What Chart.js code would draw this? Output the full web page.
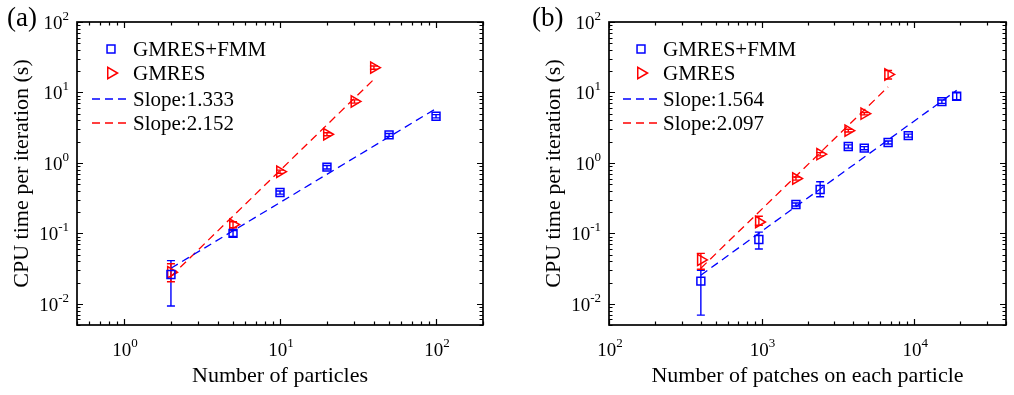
<!DOCTYPE html>
<html><head><meta charset="utf-8">
<script src="https://cdn.jsdelivr.net/npm/chart.js@4.4.1/dist/chart.umd.min.js"></script>
<style>
html,body{margin:0;padding:0;background:#fff;}
#wrap{position:relative;width:1014px;height:395px;overflow:hidden;background:#fff;}
canvas{position:absolute;top:0;}
</style></head><body>
<div id="wrap">
<canvas id="ca" width="507" height="395" style="left:0;width:507px;height:395px"></canvas>
<canvas id="cb" width="507" height="395" style="left:507px;width:507px;height:395px"></canvas>
</div>
<script>
// ---------- Panel (a) data ----------
const fmmParticlesA = [2, 5, 10, 20, 50, 100];
const fmmTimeA      = [0.026, 0.100, 0.38, 0.87, 2.5, 4.6];
const fmmLowA       = [0.0093, 0.090, 0.36, 0.82, 2.38, 4.35];
const fmmHighA      = [0.041, 0.110, 0.40, 0.92, 2.62, 4.85];
const gmresParticlesA = [2, 5, 10, 20, 30, 40];
const gmresTimeA      = [0.028, 0.133, 0.75, 2.55, 7.45, 22.5];
const gmresLowA       = [0.0206, 0.120, 0.71, 2.43, 7.05, 21.3];
const gmresHighA      = [0.037, 0.146, 0.79, 2.68, 7.85, 23.7];
const fitFmmXA = [2, 100];   const fitFmmYA = [0.032, 5.9];
const fitGmresXA = [2, 40];  const fitGmresYA = [0.0245, 15.4];
const slopeLabelsA = ['Slope:1.333', 'Slope:2.152'];

// ---------- Panel (b) data ----------
const fmmPatchesB = [400, 960, 1680, 2420, 3700, 4710, 6750, 9150, 15200, 19000];
const fmmTimeB    = [0.021, 0.082, 0.257, 0.42, 1.71, 1.62, 1.95, 2.44, 7.4, 8.85];
const fmmLowB     = [0.0069, 0.060, 0.245, 0.33, 1.62, 1.54, 1.85, 2.32, 7.0, 7.9];
const fmmHighB    = [0.030, 0.104, 0.270, 0.54, 1.80, 1.70, 2.05, 2.56, 7.8, 9.9];
const gmresPatchesB = [400, 960, 1680, 2420, 3700, 4710, 6750];
const gmresTimeB    = [0.042, 0.145, 0.60, 1.33, 2.87, 5.0, 18.0];
const gmresLowB     = [0.031, 0.130, 0.57, 1.26, 2.75, 4.8, 15.5];
const gmresHighB    = [0.052, 0.175, 0.63, 1.40, 3.00, 5.2, 20.5];
const fitFmmXB = [400, 19000];  const fitFmmYB = [0.0255, 10.7];
const fitGmresXB = [400, 6750]; const fitGmresYB = [0.032, 12.0];
const slopeLabelsB = ['Slope:1.564', 'Slope:2.097'];

// ---------- tick labels ----------
const xTickValsA = [1, 10, 100];        const xTickExpA = ['0', '1', '2'];
const xTickValsB = [100, 1000, 10000];  const xTickExpB = ['2', '3', '4'];
const yTickVals  = [0.01, 0.1, 1, 10, 100]; const yTickExp = ['-2', '-1', '0', '1', '2'];

const BLUE = 'rgb(0,0,255)', RED = 'rgb(255,0,0)';
const SERIF = "'Liberation Serif','Times New Roman',serif";

function pts(xs, ys) { return xs.map((x, i) => ({x: x, y: ys[i]})); }

function makeDatasets(fx, fy, fl, fh, gx, gy, gl, gh, lfx, lfy, lgx, lgy, slopes) {
  return [
    {label: 'GMRES+FMM', data: pts(fx, fy), errLow: fl, errHigh: fh,
     pointStyle: 'rect', pointRadius: 5.6, borderColor: BLUE, backgroundColor: 'rgba(0,0,0,0)',
     borderWidth: 1.5, showLine: false},
    {label: 'GMRES', data: pts(gx, gy), errLow: gl, errHigh: gh,
     pointStyle: 'triangle', rotation: 90, pointRadius: 6.5, borderColor: RED, backgroundColor: 'rgba(0,0,0,0)',
     borderWidth: 1.5, showLine: false},
    {label: slopes[0], data: pts(lfx, lfy), showLine: true, pointRadius: 0, borderColor: BLUE,
     borderWidth: 1.3, borderDash: [8, 5]},
    {label: slopes[1], data: pts(lgx, lgy), showLine: true, pointRadius: 0, borderColor: RED,
     borderWidth: 1.3, borderDash: [8, 5]}
  ];
}

const errorBarPlugin = {
  id: 'errorBars',
  beforeDatasetsDraw(chart) {
    const ctx = chart.ctx, xs = chart.scales.x, ys = chart.scales.y;
    ctx.save();
    chart.data.datasets.forEach(ds => {
      if (!ds.errLow) return;
      ctx.strokeStyle = ds.borderColor; ctx.lineWidth = 1.4;
      ds.data.forEach((p, i) => {
        const x = xs.getPixelForValue(p.x);
        const y1 = ys.getPixelForValue(ds.errLow[i]);
        const y2 = ys.getPixelForValue(ds.errHigh[i]);
        ctx.beginPath();
        ctx.moveTo(x, y1); ctx.lineTo(x, y2);
        ctx.moveTo(x - 4, y1); ctx.lineTo(x + 4, y1);
        ctx.moveTo(x - 4, y2); ctx.lineTo(x + 4, y2);
        ctx.stroke();
      });
    });
    ctx.restore();
  }
};

const framePlugin = {
  id: 'frame',
  afterDraw(chart, args, opts) {
    const ctx = chart.ctx, a = chart.chartArea, xs = chart.scales.x, ys = chart.scales.y;
    ctx.save();
    // box
    ctx.strokeStyle = '#000'; ctx.lineWidth = 1.7;
    ctx.strokeRect(a.left, a.top, a.right - a.left, a.bottom - a.top);
    // inward ticks
    ctx.lineWidth = 1.2;
    function logTicks(scale) {
      const out = [];
      const lo = Math.floor(Math.log10(scale.min)), hi = Math.ceil(Math.log10(scale.max));
      for (let d = lo; d <= hi; d++) for (let k = 1; k <= 9; k++) {
        const v = k * Math.pow(10, d);
        if (v >= scale.min * 0.9999 && v <= scale.max * 1.0001) out.push({v: v, major: k === 1});
      }
      return out;
    }
    ctx.beginPath();
    logTicks(xs).forEach(t => {
      const x = Math.round(xs.getPixelForValue(t.v)) + 0.5, L = t.major ? 6 : 3.5;
      ctx.moveTo(x, a.bottom); ctx.lineTo(x, a.bottom - L);
      ctx.moveTo(x, a.top); ctx.lineTo(x, a.top + L);
    });
    logTicks(ys).forEach(t => {
      const y = Math.round(ys.getPixelForValue(t.v)) + 0.5, L = t.major ? 6 : 3.5;
      ctx.moveTo(a.left, y); ctx.lineTo(a.left + L, y);
      ctx.moveTo(a.right, y); ctx.lineTo(a.right - L, y);
    });
    ctx.stroke();
    // tick labels
    ctx.fillStyle = '#000';
    const big = '19px ' + SERIF, small = '13px ' + SERIF;
    ctx.textBaseline = 'alphabetic';
    opts.xVals.forEach((v, i) => {
      const x = xs.getPixelForValue(v);
      ctx.font = big; const w1 = ctx.measureText('10').width;
      ctx.font = small; const w2 = ctx.measureText(opts.xExp[i]).width;
      const x0 = x - (w1 + w2) / 2 + 1;
      const base = a.bottom + 31;
      ctx.font = big; ctx.textAlign = 'left'; ctx.fillText('10', x0, base);
      ctx.font = small; ctx.fillText(opts.xExp[i], x0 + w1, base - 9);
    });
    yTickVals.forEach((v, i) => {
      const y = ys.getPixelForValue(v);
      ctx.font = small; const w2 = ctx.measureText(yTickExp[i]).width;
      ctx.font = big; const w1 = ctx.measureText('10').width;
      const xr = a.left - 8;
      ctx.textAlign = 'left';
      ctx.fillText('10', xr - w2 - w1, y + 7);
      ctx.font = small; ctx.fillText(yTickExp[i], xr - w2, y - 2);
    });
    // panel label
    ctx.font = '27px ' + SERIF; ctx.textAlign = 'left';
    ctx.fillText(opts.panel, opts.panelX, 26);
    // legend
    const L = opts.legend;
    ctx.textBaseline = 'middle';
    chart.data.datasets.forEach((ds, i) => {
      const y = a.top + L.rows[i];
      if (ds.showLine) {
        ctx.save();
        ctx.strokeStyle = ds.borderColor; ctx.lineWidth = ds.borderWidth; ctx.setLineDash(ds.borderDash);
        ctx.beginPath(); ctx.moveTo(a.left + L.lineX0, y); ctx.lineTo(a.left + L.lineX1, y); ctx.stroke();
        ctx.restore();
      } else {
        ctx.save();
        ctx.strokeStyle = ds.borderColor; ctx.fillStyle = 'rgba(0,0,0,0)'; ctx.lineWidth = ds.borderWidth;
        Chart.helpers.drawPoint(ctx, {pointStyle: ds.pointStyle, rotation: ds.rotation || 0,
          radius: ds.pointRadius, borderWidth: ds.borderWidth}, a.left + L.symX, y);
        ctx.restore();
      }
      ctx.font = '21px ' + SERIF;
      ctx.textAlign = 'left';
      ctx.fillStyle = '#000';
      ctx.fillText(ds.label, a.left + L.textX, y + 1);
    });
    ctx.restore();
  }
};

function makeChart(id, datasets, xmin, xmax, yTitleOff, rightPad, yAxisW, xTitle, frameOpts) {
  return new Chart(document.getElementById(id), {
    type: 'scatter',
    data: {datasets: datasets},
    plugins: [errorBarPlugin, framePlugin],
    options: {
      responsive: false, animation: false, devicePixelRatio: 1,
      layout: {padding: {left: 0, right: rightPad, top: 22, bottom: 0}},
      plugins: {legend: {display: false}, tooltip: {enabled: false}, frame: frameOpts},
      scales: {
        x: {type: 'logarithmic', min: xmin, max: xmax, position: 'bottom',
            grid: {display: false}, border: {display: false}, ticks: {display: false},
            title: {display: true, text: xTitle, color: '#000', font: {family: SERIF, size: 22},
                    padding: {top: 0, bottom: 6}},
            afterFit(s) { s.height = 70; }},
        y: {type: 'logarithmic', min: 0.005, max: 100, position: 'left',
            grid: {display: false}, border: {display: false}, ticks: {display: false},
            title: {display: true, text: 'CPU time per iteration (s)', color: '#000',
                    font: {family: SERIF, size: 22}, padding: {top: yTitleOff, bottom: 0}},
            afterFit(s) { s.width = yAxisW; }}
      }
    }
  });
}

makeChart('ca',
  makeDatasets(fmmParticlesA, fmmTimeA, fmmLowA, fmmHighA, gmresParticlesA, gmresTimeA, gmresLowA, gmresHighA,
               fitFmmXA, fitFmmYA, fitGmresXA, fitGmresYA, slopeLabelsA),
  0.5, 200, 9.3, 24, 77, 'Number of particles',
  {xVals: xTickValsA, xExp: xTickExpA, panel: '(a)', panelX: 7,
   legend: {rows: [27, 51, 77, 101], symX: 34, lineX0: 15, lineX1: 53, textX: 56}});

makeChart('cb',
  makeDatasets(fmmPatchesB, fmmTimeB, fmmLowB, fmmHighB, gmresPatchesB, gmresTimeB, gmresLowB, gmresHighB,
               fitFmmXB, fitFmmYB, fitGmresXB, fitGmresYB, slopeLabelsB),
  100, 40000, 33.8, 2, 102, 'Number of patches on each particle',
  {xVals: xTickValsB, xExp: xTickExpB, panel: '(b)', panelX: 25,
   legend: {rows: [27, 51, 77, 101], symX: 32, lineX0: 14, lineX1: 53, textX: 54}});
</script>
</body></html>
